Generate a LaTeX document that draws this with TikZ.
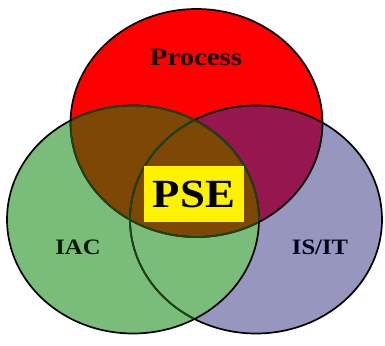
\documentclass[tikz,border=0pt]{standalone}
\usepackage{fontspec}
\setmainfont{Liberation Serif}
\begin{document}
\begin{tikzpicture}[x=1pt,y=-1pt,
  lbl/.style={font=\bfseries, inner sep=0pt},
  ring/.style={line width=1.7pt}]
\useasboundingbox (0,0) rectangle (385,345);
\definecolor{cRed}{RGB}{255,0,0}
\definecolor{cGreen}{RGB}{122,188,122}
\definecolor{cBlue}{RGB}{150,150,190}
\definecolor{cBrown}{RGB}{125,72,5}
\definecolor{cMaroon}{RGB}{150,22,78}
\definecolor{cDkGreen}{RGB}{25,70,25}
\def\RX{126}\def\RY{114}
\coordinate (R) at (196.5,123);
\coordinate (G) at (133,219.5);
\coordinate (B) at (256,219.5);
% base fills
\fill[cBlue] (B) ellipse [x radius=\RX, y radius=\RY];
\fill[cGreen] (G) ellipse [x radius=\RX, y radius=\RY];
\fill[cRed] (R) ellipse [x radius=\RX, y radius=\RY];
% overlaps with red
\begin{scope}
  \clip (R) ellipse [x radius=\RX, y radius=\RY];
  \fill[cMaroon] (B) ellipse [x radius=\RX, y radius=\RY];
  \fill[cBrown] (G) ellipse [x radius=\RX, y radius=\RY];
\end{scope}
% outlines
\draw[ring] (B) ellipse [x radius=\RX, y radius=\RY];
\draw[ring] (R) ellipse [x radius=\RX, y radius=\RY];
\draw[ring] (G) ellipse [x radius=\RX, y radius=\RY];
\begin{scope}
  \clip (G) ellipse [x radius=\RX-1, y radius=\RY-1];
  \draw[ring,cDkGreen] (B) ellipse [x radius=\RX, y radius=\RY];
  \draw[ring,cDkGreen] (R) ellipse [x radius=\RX, y radius=\RY];
\end{scope}
\begin{scope}
  \clip (R) ellipse [x radius=\RX-1, y radius=\RY-1];
  \draw[ring,cDkGreen] (G) ellipse [x radius=\RX, y radius=\RY];
\end{scope}
% labels
\node[lbl, text=black!90!red] (proc) at (196,57) {\scalebox{1.15}[1]{\fontsize{25}{25}\selectfont Process}};
\node[lbl, text=black!90!green] (iac) at (78,247) {\scalebox{1.12}[1]{\fontsize{22}{22}\selectfont IAC}};
\node[lbl, text=black!90!blue] (isit) at (320,247) {\scalebox{1.12}[1]{\fontsize{22}{22}\selectfont IS/IT}};
\node[lbl, fill=yellow, minimum width=100pt, minimum height=56pt] (pse) at (194,194) {\scalebox{1.12}[1]{\fontsize{40}{40}\selectfont PSE}};
\end{tikzpicture}
\end{document}
